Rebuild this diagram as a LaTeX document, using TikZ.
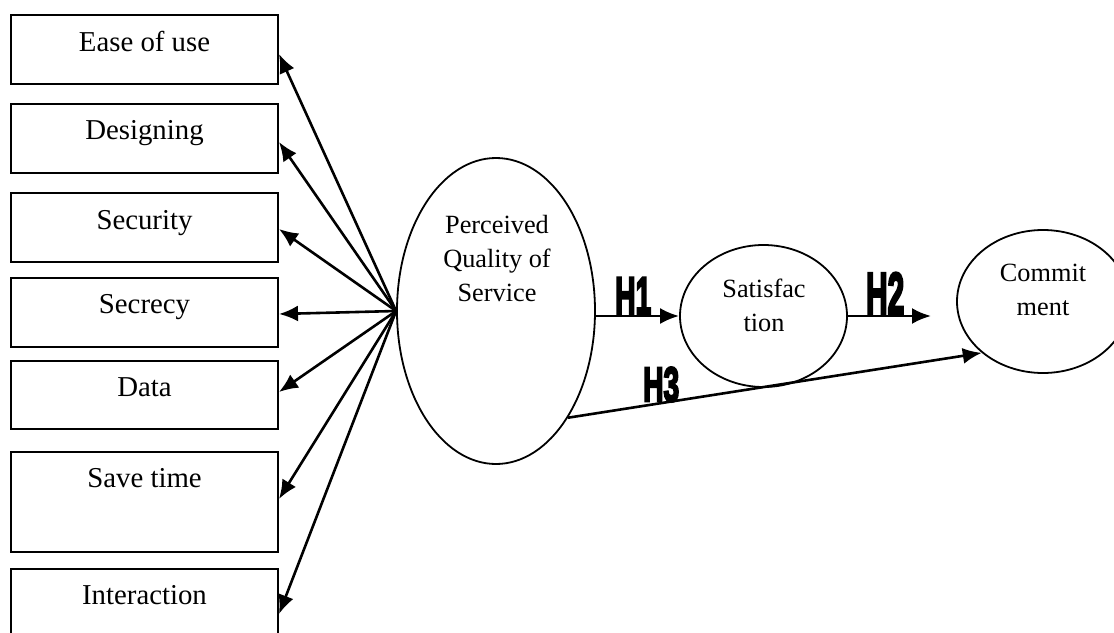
\documentclass[tikz,border=0pt]{standalone}
\usepackage{fontspec}
\usepackage{graphicx}
\setmainfont{Liberation Serif}
\newfontfamily\hfont{Liberation Sans Bold}[FakeBold=5]
\usetikzlibrary{arrows.meta,shapes.geometric}
\tikzset{
  itembox/.style={draw, line width=2pt, rectangle, minimum width=267pt, inner sep=0pt},
  boxtxt/.style={anchor=base, inner sep=0pt, font=\fontsize{28.8}{33}\selectfont},
  oval/.style={draw, line width=1.8pt, ellipse, inner sep=0pt},
  ovaltxt/.style={anchor=base, inner sep=0pt, align=center, font=\fontsize{26.3}{34}\selectfont},
  link/.style={line width=2.6pt, -{Latex[length=19pt,width=16pt]}},
  hlab/.style={inner sep=0pt, anchor=south west}
}
\begin{document}
\begin{tikzpicture}[x=1pt,y=-1pt]
\useasboundingbox (0,0) rectangle (1114,632);
\clip (0,0) rectangle (1114,632);
\fill[white] (0,0) rectangle (1114,632);

% indicator boxes
\node[itembox, minimum height=69pt] (b1) at (144.5,49.5) {};
\node[itembox, minimum height=69pt] (b2) at (144.5,138.5) {};
\node[itembox, minimum height=69pt] (b3) at (144.5,227.5) {};
\node[itembox, minimum height=69pt] (b4) at (144.5,312.5) {};
\node[itembox, minimum height=68pt] (b5) at (144.5,395) {};
\node[itembox, minimum height=100pt] (b6) at (144.5,502) {};
\node[itembox, minimum height=100pt] (b7) at (144.5,619) {};

\node[boxtxt] (t1) at ([yshift=-37.5pt]b1.north) {Ease of use};
\node[boxtxt] (t2) at ([yshift=-36.5pt]b2.north) {Designing};
\node[boxtxt] (t3) at ([yshift=-37.5pt]b3.north) {Security};
\node[boxtxt] (t4) at ([yshift=-36.5pt]b4.north) {Secrecy};
\node[boxtxt] (t5) at ([yshift=-36pt]b5.north) {Data};
\node[boxtxt] (t6) at ([yshift=-36.5pt]b6.north) {Save time};
\node[boxtxt] (t7) at ([yshift=-36.5pt]b7.north) {Interaction};

% ellipses
\node[oval, minimum width=198pt, minimum height=306pt] (pq) at (496,311) {};
\node[oval, minimum width=167pt, minimum height=142pt] (sat) at (763.5,316) {};
\node[oval, minimum width=172pt, minimum height=143pt] (cm) at (1043,301.5) {};

\node[ovaltxt] (pqt) at (497,301.7) {Perceived\\Quality of\\Service};
\node[ovaltxt] (satt) at (764,331.7) {Satisfac\\tion};
\node[ovaltxt] (cmt) at (1043,315) {Commit\\ment};

% arrows from the construct to its indicators
\draw[link] (pq.west) -- ([yshift=-40pt]b1.north east);
\draw[link] (pq.west) -- ([yshift=-39pt]b2.north east);
\draw[link] (pq.west) -- ([yshift=-37pt]b3.north east);
\draw[link] (pq.west) -- ([yshift=-37pt]b4.north east);
\draw[link] (pq.west) -- ([yshift=-32pt]b5.north east);
\draw[link] (pq.west) -- ([yshift=-48pt]b6.north east);
\draw[link] (pq.west) -- ([yshift=-46pt]b7.north east);

% hypotheses
\coordinate (h2end) at (931,316);
\draw[link] (sat.west -| pq.east) -- (sat.west);
\draw[link] (sat.east) -- (h2end);
\draw[link] (pq.-56) -- (cm.-140);

\node[hlab] (h1) at (615,314) {\resizebox{36pt}{36pt}{\hfont H1}};
\node[hlab] (h2) at (866,314) {\resizebox{38pt}{41pt}{\hfont H2}};
\node[hlab] (h3) at (643,402) {\resizebox{36pt}{34pt}{\hfont H3}};
\end{tikzpicture}
\end{document}
